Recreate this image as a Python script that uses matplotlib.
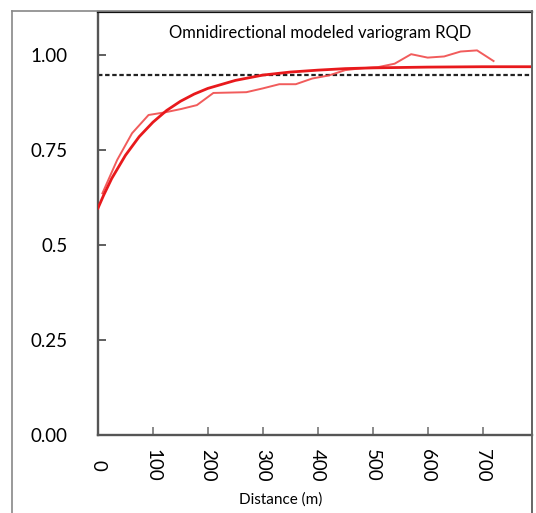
import matplotlib
matplotlib.use("Agg")
import matplotlib.pyplot as plt
from matplotlib.lines import Line2D

plt.rcParams['font.family'] = ['Lato', 'DejaVu Sans']

# Experimental variogram (lag distance, value)
exp_dist = [8, 35, 62, 92, 122, 152, 180, 210, 240, 270, 300, 330, 360, 390,
            420, 450, 480, 510, 540, 570, 600, 630, 660, 690, 720]
exp_vals = [0.636, 0.724, 0.794, 0.842, 0.849, 0.858, 0.868, 0.900, 0.901, 0.902,
            0.912, 0.923, 0.923, 0.938, 0.946, 0.960, 0.965, 0.968, 0.977, 1.002,
            0.993, 0.996, 1.009, 1.012, 0.984]

# Modeled variogram values
model_dist = [0, 10, 25, 50, 75, 100, 125, 150, 175, 200, 250, 300, 350, 400,
              450, 500, 600, 700, 800]
model_vals = [0.597, 0.630, 0.675, 0.736, 0.785, 0.823, 0.854, 0.878, 0.897, 0.912,
              0.933, 0.947, 0.955, 0.960, 0.964, 0.966, 0.968, 0.969, 0.969]

sill = 0.946

x_ticks = [0, 100, 200, 300, 400, 500, 600, 700]
x_tick_labels = ["0", "100", "200", "300", "400", "500", "600", "700"]
y_ticks = [0.0, 0.25, 0.5, 0.75, 1.0]
y_tick_labels = ["0.00", "0.25", "0.5", "0.75", "1.00"]

title = "Omnidirectional modeled variogram RQD"
xlabel = "Distance (m)"

W, H = 536, 513
fig = plt.figure(figsize=(W / 100, H / 100), dpi=100)
ax = fig.add_axes([98 / W, 1 - 435 / H, (532 - 98) / W, (435 - 12) / H])

ax.plot(exp_dist, exp_vals, color='#f04a4a', lw=1.4, alpha=0.9, zorder=3)
ax.plot(model_dist, model_vals, color='#e8191c', lw=2.0, zorder=4)
ax.axhline(sill, color='#222222', lw=1.6, ls=(0, (2, 1.2)), zorder=2)

ax.set_xlim(0, 790)
ax.set_ylim(0, 1.113)

ax.set_yticks(y_ticks)
ax.set_yticklabels(y_tick_labels, fontsize=13.5)
ax.set_xticks(x_ticks)
ax.set_xticklabels(x_tick_labels, fontsize=13.5, rotation=-90, va='center', ha='center')

ax.tick_params(axis='y', direction='in', length=6, width=1.2, color='#444444', pad=22)
ax.tick_params(axis='x', direction='in', length=5.5, width=1.2, color='#777777', pad=22)

for side in ['left', 'bottom']:
    ax.spines[side].set_color('#555555')
    ax.spines[side].set_linewidth(1.7)
ax.spines['top'].set_color('#111111')
ax.spines['top'].set_linewidth(1.6)
ax.spines['right'].set_color('#555555')
ax.spines['right'].set_linewidth(1.4)

ax.text((320 - 98) / 434, (435 - 33) / 423, title, transform=ax.transAxes,
        ha='center', va='center', fontsize=12)

fig.text(281 / W, 1 - 500 / H, xlabel, ha='center', va='center', fontsize=11)

# outer frame lines
fc = '#888888'
fig.add_artist(Line2D([12 / W, 12 / W], [0, 1 - 11 / H], color=fc, lw=1.2, transform=fig.transFigure))
fig.add_artist(Line2D([12 / W, 532 / W], [1 - 11 / H, 1 - 11 / H], color=fc, lw=1.2, transform=fig.transFigure))
fig.add_artist(Line2D([532 / W, 532 / W], [0, 1 - 11 / H], color='#666666', lw=1.4, transform=fig.transFigure))

fig.savefig("out.png", dpi=100)
